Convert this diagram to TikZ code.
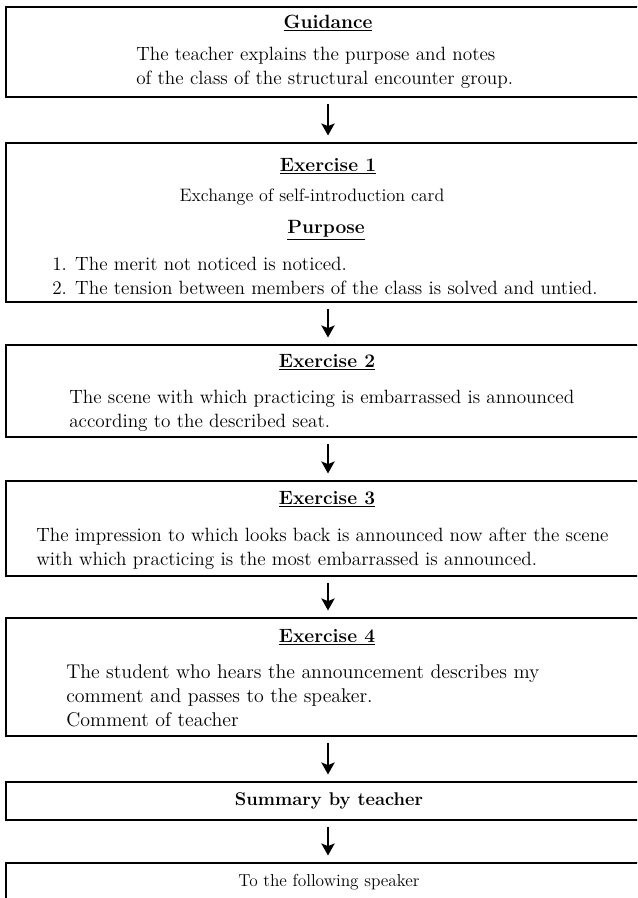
\documentclass[tikz,border=0pt]{standalone}
\usepackage{fontspec}
\usetikzlibrary{graphs}
\usetikzlibrary{arrows.meta}

\begin{document}
\begin{tikzpicture}[x=0.75pt, y=-0.75pt,
        stage/.style={draw, line width=1.3pt, rectangle, minimum width=483pt},
        head/.style={font=\fontsize{14.4}{18}\selectfont\bfseries, inner sep=0pt},
        txt/.style={font=\fontsize{14.4}{18}\selectfont, align=left, inner sep=0pt}]
            \useasboundingbox (0,0) rectangle (637,898);
            \clip (0,0) rectangle (637,898);

            % the boxes, cut off on the right as in the scan
            \node[stage, minimum height=67.5pt]  (guid) at (328,52)    {};
            \node[stage, minimum height=119.25pt] (ex1) at (328,222.5) {};
            \node[stage, minimum height=69pt]    (ex2) at (328,391)    {};
            \node[stage, minimum height=71.25pt] (ex3) at (328,528.5)  {};
            \node[stage, minimum height=88.5pt]  (ex4) at (328,677)    {};
            \node[stage, minimum height=28.5pt]  (summ) at (328,801)   {};
            \node[stage, minimum height=54pt]    (next) at (328,899)   {};

            % texts
            \node[head] (guidh) at (328,23) {\underline{Guidance}};
            \node[txt, anchor=west] (guidt) at (136,68)
                {The teacher explains the purpose and notes\\
                 of the class of the structural encounter group.};

            \node[head] (ex1h) at (328,166) {\underline{Exercise 1}};
            \node[txt, font=\fontsize{13.5}{18}\selectfont] (ex1t) at (312,197) {Exchange of self-introduction card};
            \node[head] (purph) at (326,230) {\underline{Purpose}};
            \node[txt, anchor=west] (purpt) at (52,276)
                {1. The merit not noticed is noticed.\\
                 2. The tension between members of the class is solved and untied.};

            \node[head] (ex2h) at (327,362) {\underline{Exercise 2}};
            \node[txt, anchor=west] (ex2t) at (69,411)
                {The scene with which practicing is embarrassed is announced\\
                 according to the described seat.};

            \node[head] (ex3h) at (327,499) {\underline{Exercise 3}};
            \node[txt, anchor=west] (ex3t) at (36,549)
                {The impression to which looks back is announced now after the scene\\
                 with which practicing is the most embarrassed is announced.};

            \node[head] (ex4h) at (327,637) {\underline{Exercise 4}};
            \node[txt, font=\fontsize{14.9}{18}\selectfont\addfontfeatures{LetterSpace=3.5}, anchor=west] (ex4t) at (66,696)
                {The student who hears the announcement describes my\\
                 comment and passes to the speaker.\\
                 Comment of teacher};

            \node[head, font=\fontsize{13.8}{18}\selectfont\bfseries] (summt) at (329,801) {Summary by teacher};
            \node[txt, font=\fontsize{13}{18}\selectfont] (nextt) at (329,882) {To the following speaker};

            \graph[edges={-{Stealth[length=9pt, width=10pt, inset=2pt]}, line width=1.3pt,
                           shorten <=4.5pt, shorten >=5pt}] {
                (guid) -> (ex1) -> (ex2) -> (ex3) -> (ex4) -> (summ) -> (next);
            };
        \end{tikzpicture}
\end{document}
